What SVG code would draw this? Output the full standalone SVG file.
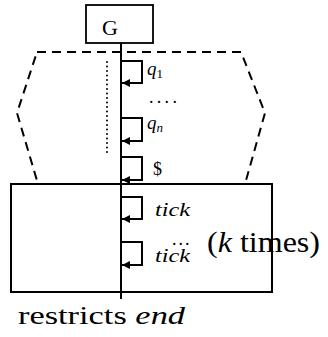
<svg xmlns="http://www.w3.org/2000/svg" width="328" height="337" viewBox="0 0 328 337">
<style>
text{font-family:"Liberation Serif","DejaVu Serif","Times New Roman",serif;fill:#000}
.it{font-style:italic}
.loop{fill:none;stroke:#000;stroke-width:2}
</style>
<defs>
<marker id="ah" viewBox="0 0 10 10" refX="10" refY="5" markerWidth="9" markerHeight="8" markerUnits="userSpaceOnUse" orient="auto">
<path d="M0,0 L10,5 L0,10 Z" fill="#000"/>
</marker>
</defs>
<rect width="328" height="337" fill="#fff"/>
<g id="hexagon">
<polygon points="37,52 241,52 265,113 245,184 38,184 17,113" fill="none" stroke="#000" stroke-width="2" stroke-dasharray="9,6"/>
</g>
<g id="box">
<rect x="11" y="184" width="261" height="108" fill="none" stroke="#000" stroke-width="2"/>
</g>
<g id="G">
<rect x="86" y="5" width="67" height="38" fill="#fff" stroke="#000" stroke-width="1.8"/>
<text x="110" y="35" font-size="22" text-anchor="middle">G</text>
</g>
<g id="connectors">
<line x1="121" y1="43" x2="121" y2="299" stroke="#000" stroke-width="2"/>
<line x1="107" y1="62" x2="107" y2="153" stroke="#000" stroke-width="2" stroke-linecap="round" stroke-dasharray="0,4.5"/>
<path class="loop" d="M121,61 H142 V83 H122" marker-end="url(#ah)"/>
<path class="loop" d="M121,118 H142 V141 H122" marker-end="url(#ah)"/>
<path class="loop" d="M121,157 H142 V180 H122" marker-end="url(#ah)"/>
<path class="loop" d="M121,197 H142 V219 H122" marker-end="url(#ah)"/>
<path class="loop" d="M121,242 H142 V265 H122" marker-end="url(#ah)"/>
</g>
<g id="labels">
<text x="147" y="75" font-size="19"><tspan class="it">q</tspan><tspan font-size="13" dy="3">1</tspan></text>
<text x="149" y="103" font-size="18" letter-spacing="3.3">....</text>
<text x="147" y="129" font-size="19"><tspan class="it">q</tspan><tspan class="it" font-size="13" dy="3">n</tspan></text>
<text x="153" y="175" font-size="18">$</text>
<text class="it" x="155" y="216" font-size="19" textLength="35" lengthAdjust="spacingAndGlyphs">tick</text>
<text class="it" x="155" y="262" font-size="19" textLength="35" lengthAdjust="spacingAndGlyphs">tick</text>
<text x="172" y="245" font-size="18" letter-spacing="2">...</text>
<text x="207" y="252" font-size="30" textLength="113" lengthAdjust="spacingAndGlyphs">(<tspan class="it">k</tspan> times)</text>
<text x="18" y="324" font-size="26" textLength="167" lengthAdjust="spacingAndGlyphs">restricts <tspan class="it">end</tspan></text>
</g>
</svg>
